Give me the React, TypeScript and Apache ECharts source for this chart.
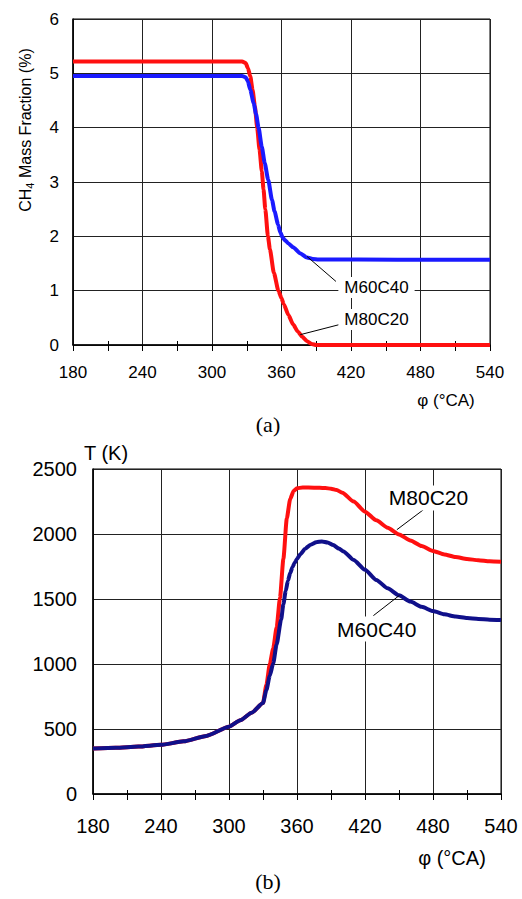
import React, { useEffect, useRef } from "react";
import * as echarts from "echarts";

// Crank angle axis (°CA)
const ANGLE_MIN = 180;
const ANGLE_MAX = 540;
const ANGLE_STEP = 60;

// CH4 mass fraction (%) against crank angle
const ch4M80C20: [number, number][] = [
  [180, 5.22], [260, 5.22], [326, 5.22], [329, 5.19], [331, 5.1], [333, 4.95],
  [335, 4.7], [337, 4.4], [339, 4.0], [341, 3.6], [343, 3.2], [344.5, 2.86],
  [346, 2.5], [348.3, 2.0], [350, 1.76], [353.4, 1.33], [357.3, 1.0], [360, 0.86],
  [362, 0.75], [366, 0.55], [370, 0.38], [374, 0.25], [378, 0.15], [382, 0.07],
  [386, 0.02], [390, 0.0], [460, 0.0], [540, 0.0],
];
const ch4M60C40: [number, number][] = [
  [180, 4.95], [260, 4.95], [326, 4.95], [329, 4.93], [331, 4.85], [333, 4.7],
  [336, 4.45], [338, 4.25], [340.2, 4.0], [343, 3.65], [345.5, 3.35], [348.5, 3.04],
  [351.8, 2.67], [354, 2.46], [357, 2.22], [359, 2.07], [361, 1.98], [363, 1.93],
  [366, 1.87], [370, 1.8], [376, 1.69], [382, 1.61], [387, 1.585], [392, 1.575],
  [460, 1.57], [540, 1.57],
];

// In-cylinder temperature (K) against crank angle
const tempM80C20: [number, number][] = [
  [180, 350], [200, 356], [220, 365], [240, 378], [260, 405], [280, 447], [300, 518],
  [310, 567], [320, 625], [330, 700], [333, 840], [336, 1000], [339, 1120],
  [342, 1280], [345, 1510], [348, 1810], [351, 2120], [354, 2270], [357, 2330],
  [360, 2352], [365, 2358], [370, 2358], [380, 2355], [385, 2353], [390, 2349],
  [395, 2338], [400, 2318], [410, 2250], [420, 2172], [430, 2105], [440, 2048],
  [450, 1997], [460, 1950], [470, 1907], [480, 1870], [490, 1843], [500, 1823],
  [510, 1808], [520, 1798], [530, 1790], [540, 1786],
];
const tempM60C40: [number, number][] = [
  [180, 350], [200, 356], [220, 365], [240, 378], [260, 405], [280, 447], [300, 518],
  [310, 567], [320, 625], [330, 700], [333, 800], [336, 910], [339, 1005],
  [342, 1150], [346, 1342], [348, 1460], [350, 1560], [352, 1640], [354, 1700],
  [356, 1745], [358, 1780], [360, 1808], [363, 1845], [367, 1885], [372, 1918],
  [377, 1937], [382, 1943], [387, 1935], [392, 1915], [397, 1888], [401, 1866],
  [410, 1800], [420, 1725], [430, 1647], [440, 1582], [450, 1528], [460, 1480],
  [470, 1440], [480, 1407], [490, 1382], [500, 1365], [510, 1353], [520, 1346],
  [530, 1341], [540, 1338],
];

const SANS = "'Liberation Sans', Arial, sans-serif";
const SERIF = "'Liberation Serif', 'Times New Roman', serif";

// Leader-line callouts, anchored in data units of each panel
const CALLOUTS = [
  { grid: 0, text: "M60C40", from: [382, 1.63], to: [407, 1.17], at: [442, 1.06], size: 17 },
  { grid: 0, text: "M80C20", from: [376.2, 0.19], to: [410.8, 0.38], at: [442, 0.47], size: 17 },
  { grid: 1, text: "M80C20", from: [448.1, 2033], to: [471.6, 2187], at: [476, 2277], size: 21 },
  { grid: 1, text: "M60C40", from: [450.4, 1528], to: [427.4, 1372], at: [430.4, 1269], size: 21 },
];

function angleAxis(gridIndex: number, fontSize: number, margin: number) {
  return {
    gridIndex,
    type: "value",
    min: ANGLE_MIN,
    max: ANGLE_MAX,
    interval: ANGLE_STEP,
    axisLine: { show: true, lineStyle: { color: "#000", width: 1.5 } },
    axisTick: { show: true, length: 6, lineStyle: { color: "#000", width: 1 } },
    minorTick: { show: true, splitNumber: 2, length: 6, lineStyle: { color: "#000", width: 1 } },
    axisLabel: { fontSize, margin, color: "#000", fontFamily: SANS, formatter: (v: number) => String(v) },
    splitLine: { show: true, lineStyle: { color: "#222", width: 1 } },
  };
}

// Inward half of the minor ticks, which cross the axis line
function innerTicks(gridIndex: number) {
  return {
    gridIndex,
    type: "value",
    position: "bottom",
    min: ANGLE_MIN,
    max: ANGLE_MAX,
    interval: ANGLE_STEP,
    axisLine: { show: false },
    axisTick: { show: false, inside: true },
    minorTick: { show: true, splitNumber: 2, length: 4, lineStyle: { color: "#000", width: 1 } },
    axisLabel: { show: false },
    splitLine: { show: false },
  };
}

function valueAxis(gridIndex: number, max: number, interval: number, fontSize: number, margin: number) {
  return {
    gridIndex,
    type: "value",
    min: 0,
    max,
    interval,
    axisLine: { show: true, lineStyle: { color: "#000", width: 1.5 } },
    axisTick: { show: false },
    axisLabel: { fontSize, margin, color: "#000", fontFamily: SANS, formatter: (v: number) => String(v) },
    splitLine: { show: true, lineStyle: { color: "#222", width: 1 } },
  };
}

function curve(name: string, data: [number, number][], color: string, xAxisIndex: number, yAxisIndex: number) {
  return {
    name,
    type: "line",
    xAxisIndex,
    yAxisIndex,
    data,
    smooth: 0.2,
    smoothMonotone: "x",
    showSymbol: false,
    lineStyle: { color, width: 4 },
    z: 3,
  };
}

export default function App() {
  const ref = useRef<HTMLDivElement>(null);

  useEffect(() => {
    document.body.style.margin = "0";
    if (!ref.current) return;
    const chart = echarts.init(ref.current, undefined, { renderer: "svg" });

    chart.setOption({
      animation: false,
      backgroundColor: "#fff",
      grid: [
        { left: 73, top: 19, width: 417, height: 326, show: true, borderColor: "#000", borderWidth: 1 },
        { left: 93, top: 469, width: 408, height: 325, show: true, borderColor: "#000", borderWidth: 1 },
      ],
      xAxis: [
        angleAxis(0, 17, 19),
        innerTicks(0),
        angleAxis(1, 20, 22),
        innerTicks(1),
      ],
      yAxis: [valueAxis(0, 6, 1, 17, 14), valueAxis(1, 2500, 500, 20, 16)],
      series: [
        curve("M80C20", ch4M80C20, "#ff1010", 0, 0),
        curve("M60C40", ch4M60C40, "#1a1aff", 0, 0),
        curve("M80C20", tempM80C20, "#ff1010", 2, 1),
        curve("M60C40", tempM60C40, "#10108a", 2, 1),
      ],
    });

    const px = (grid: number, p: number[]) =>
      chart.convertToPixel({ xAxisIndex: grid === 0 ? 0 : 2, yAxisIndex: grid }, p) as number[];

    const callouts: any[] = [];
    CALLOUTS.forEach((c) => {
      const a = px(c.grid, c.from);
      const b = px(c.grid, c.to);
      const t = px(c.grid, c.at);
      callouts.push({
        type: "line",
        shape: { x1: a[0], y1: a[1], x2: b[0], y2: b[1] },
        style: { stroke: "#000", lineWidth: 1 },
        z: 10,
      });
      callouts.push({
        type: "text",
        x: t[0],
        y: t[1],
        z: 11,
        style: {
          text: c.text,
          fontSize: c.size,
          fontFamily: SANS,
          fill: "#000",
          align: "center",
          verticalAlign: "middle",
          backgroundColor: "#fff",
          padding: [2, 6, 2, 6],
        },
      });
    });

    chart.setOption({
      graphic: [
        ...callouts,
        {
          type: "text",
          x: 25,
          y: 130,
          rotation: Math.PI / 2,
          style: {
            text: "{a|CH}{s|4}{a| Mass Fraction (%)}",
            align: "center",
            verticalAlign: "middle",
            rich: {
              a: { fontSize: 16, fontFamily: SANS, fill: "#000", lineHeight: 20 },
              s: { fontSize: 11, fontFamily: SANS, fill: "#000", lineHeight: 20, verticalAlign: "bottom", padding: [6, 0, 0, 0] },
            },
          },
        },
        {
          type: "text", x: 446, y: 400,
          style: { text: "φ (°CA)", fontSize: 17, fontFamily: SANS, fill: "#000", align: "center", verticalAlign: "middle" },
        },
        {
          type: "text", x: 268, y: 424,
          style: { text: "(a)", fontSize: 22, fontFamily: SERIF, fill: "#000", align: "center", verticalAlign: "middle" },
        },
        {
          type: "text", x: 106, y: 453,
          style: { text: "T (K)", fontSize: 20, fontFamily: SANS, fill: "#000", align: "center", verticalAlign: "middle" },
        },
        {
          type: "text", x: 452, y: 858,
          style: { text: "φ (°CA)", fontSize: 20, fontFamily: SANS, fill: "#000", align: "center", verticalAlign: "middle" },
        },
        {
          type: "text", x: 268, y: 881,
          style: { text: "(b)", fontSize: 22, fontFamily: SERIF, fill: "#000", align: "center", verticalAlign: "middle" },
        },
      ],
    });

    return () => chart.dispose();
  }, []);

  return <div ref={ref} style={{ width: 522, height: 899 }} />;
}
